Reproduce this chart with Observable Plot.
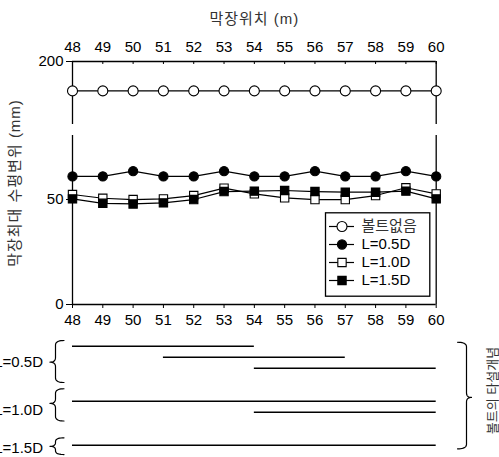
<!DOCTYPE html>
<html><head><meta charset="utf-8">
<script src="https://cdn.jsdelivr.net/npm/d3@7"></script>
<script src="https://cdn.jsdelivr.net/npm/@observablehq/plot@0.6"></script>
<style>
body{margin:0;background:#fff;}
#wrap{position:relative;width:499px;height:457px;overflow:hidden;}
#wrap svg{position:absolute;left:0;top:0;}
</style></head><body><div id="wrap"></div>
<script>
// ---- data ----
const positions = [48,49,50,51,52,53,54,55,56,57,58,59,60];
const seriesNames = ["볼트없음","L=0.5D","L=1.0D","L=1.5D"];
const noBolt = [186,186,186,186,186,186,186,186,186,186,186,186,186];
const l05 = [61,61,63.5,61,61,63.5,61,61,63.5,61,61,63.5,61];
const l10 = [52.4,50.6,50,50.3,51.9,55.4,52.7,50.8,50,50,51.9,55.6,52.7];
const l15 = [50.3,48.2,47.9,48.4,50,53.8,54,54.3,53.8,53.5,53.5,54,50.3];
const yTicks = [0,50,200];
const yBreak = [80.5,170];
const title = "막장위치 (m)";
const yLabel = "막장최대 수평변위 (mm)";
const patternGroups = ["L=0.5D","L=1.0D","L=1.5D"];
const boltGroup = ["L=0.5D","L=0.5D","L=0.5D","L=1.0D","L=1.0D","L=1.5D"];
const boltStart = [48,51,54,48,54,48];
const boltEnd = [54,57,60,60,60,60];
const rightLabel = "볼트의 타설개념";

// ---- layout ----
const W = 499, H = 457;
const ML = 72, MR = 63.3, MT = 61, YB = 304, MB = H - YB;
const frameW = W - ML - MR, frameH = YB - MT;
const ppu = frameW / (positions[positions.length-1] - positions[0]);
const font = "Arial, 'Liberation Sans', 'Noto Sans CJK KR', sans-serif";
const base = {fontFamily: font, fontSize: "15px", color: "black", overflow: "visible"};
const korFill = "#333";

const seriesValues = [noBolt, l05, l10, l15];
const symbols = ["circle","circle","square","square"];
const fills = ["white","black","white","black"];
const radii = [5, 4.6, 4.7, 4.7];
const table = seriesNames.flatMap((s, k) => positions.map((p, i) => ({pos: p, value: seriesValues[k][i], series: s})));

const frameSegs = [];
for (const x of [positions[0], positions[positions.length-1]]) {
  frameSegs.push({x, y1: 0, y2: yBreak[0]}, {x, y1: yBreak[1], y2: yTicks[yTicks.length-1]});
}

const seriesMarks = seriesNames.flatMap((s, k) => {
  const d = table.filter(r => r.series === s);
  return [
    Plot.line(d, {x: "pos", y: "value", stroke: "black", strokeWidth: 1.2}),
    Plot.dot(d, {x: "pos", y: "value", symbol: symbols[k], r: radii[k], fill: fills[k], stroke: "black", strokeWidth: 1.1})
  ];
});

const main = Plot.plot({
  width: W, height: H, marginLeft: ML, marginRight: MR, marginTop: MT, marginBottom: MB,
  style: {...base, background: "white"},
  x: {domain: [positions[0], positions[positions.length-1]]},
  y: {type: "linear", domain: [0, yBreak[0], yBreak[1], 200], range: [YB, 135, 124, MT]},
  marks: [
    Plot.axisX(positions, {anchor: "top", tickSize: 0, tickPadding: 10, tickFormat: d => String(d)}),
    Plot.axisX(positions, {anchor: "bottom", tickSize: 4, tickPadding: 6, tickFormat: d => String(d)}),
    Plot.tickX(positions, {x: d => d, insetBottom: frameH - 3, stroke: "black"}),
    Plot.axisY(yTicks, {anchor: "left", tickSize: 6, tickPadding: 3, tickFormat: d => String(d)}),
    Plot.tickY(yTicks, {y: d => d, insetRight: frameW - 6, stroke: "black"}),
    Plot.ruleY([0, 200], {y: d => d, stroke: "black", strokeWidth: 1.3}),
    Plot.ruleX(frameSegs, {x: "x", y1: "y1", y2: "y2", stroke: "black", strokeWidth: 1.3}),
    ...seriesMarks,
    Plot.text([title], {frameAnchor: "top", dy: -48, fill: korFill, fontSize: 15}),
    Plot.text([yLabel], {frameAnchor: "left", dx: -57, rotate: -90, textAnchor: "middle", fill: korFill, fontSize: 15})
  ]
});
main.querySelectorAll("text").forEach(t => { if (/[\uAC00-\uD7A3]/.test(t.textContent)) t.setAttribute("letter-spacing", "1"); });

// ---- bolting pattern section ----
const rowPx = 11, row0 = 345.7;
const boltRows = [0,1,2,5,6,9];
const bolts = boltGroup.map((g, i) => ({group: g, row: boltRows[i], start: boltStart[i], end: boltEnd[i]}));
const labelRows = [1.45, 5.85, 9.25];
const leftBraces = [[-0.52, 1.45, 3.3], [3.87, 5.2, 6.8], [8.33, 9.1, 9.85]];
const rightBrace = [-0.36, 4.66, 9.33];
const pxToX = px => positions[0] + (px - ML) / ppu;

function bracePts(xEnd, xSpine, xTip, top, tip, bottom, id) {
  const c = Math.min(0.42, (tip - top) / 2.2, (bottom - tip) / 2.2);
  const pts = [];
  const q = (p0, p1, p2) => { for (let i = 0; i <= 10; i++) { const t = i / 10, u = 1 - t;
    pts.push([u*u*p0[0] + 2*u*t*p1[0] + t*t*p2[0], u*u*p0[1] + 2*u*t*p1[1] + t*t*p2[1]]); } };
  q([xEnd, top], [xSpine, top], [xSpine, top + c]);
  q([xSpine, tip - c], [xSpine, tip], [xTip, tip]);
  q([xTip, tip], [xSpine, tip], [xSpine, tip + c]);
  q([xSpine, bottom - c], [xSpine, bottom], [xEnd, bottom]);
  return pts.map(([px, r]) => ({x: pxToX(px), y: r, id}));
}
const braceData = [
  ...leftBraces.flatMap((b, i) => bracePts(63.5, 55, 49.5, b[0], b[1], b[2], "L" + i)),
  ...bracePts(457, 466, 471, rightBrace[0], rightBrace[1], rightBrace[2], "R")
];

const lower = Plot.plot({
  width: W, height: H, marginLeft: ML, marginRight: MR, marginTop: MT, marginBottom: MB,
  style: {...base, background: "transparent"},
  x: {domain: [positions[0], positions[positions.length-1]], axis: null},
  y: {domain: [0, 9], range: [row0, row0 + 9 * rowPx], axis: null},
  marks: [
    Plot.ruleY(bolts, {y: "row", x1: "start", x2: "end", stroke: "black", strokeWidth: 1.4}),
    Plot.line(braceData, {x: "x", y: "y", z: "id", stroke: "black", strokeWidth: 1.2}),
    Plot.text(patternGroups, {x: positions[0], y: (d, i) => labelRows[i], dx: -29.5, textAnchor: "end", fontSize: 15, fill: "black"}),
    Plot.text([rightLabel], {x: positions[positions.length-1], y: 4.03, dx: 56.3, rotate: -90, fontSize: 13, fill: korFill})
  ]
});

// ---- legend ----
const legend = Plot.plot({
  width: W, height: H, marginLeft: 325, marginRight: W - 429.3, marginTop: 212.3, marginBottom: H - 295.7,
  style: {...base, background: "transparent"},
  x: {domain: [0, 1], range: [329, 354], axis: null},
  y: {type: "point", domain: seriesNames, range: [226, 280.7], padding: 0, axis: null},
  marks: [
    Plot.frame({stroke: "black", strokeWidth: 1.3}),
    Plot.ruleY(seriesNames, {y: d => d, x1: 0, x2: 1, stroke: "black", strokeWidth: 1.2}),
    ...seriesNames.map((s, k) => Plot.dot([s], {x: 0.5, y: d => d, symbol: symbols[k], r: radii[k], fill: fills[k], stroke: "black", strokeWidth: 1.1})),
    Plot.text(seriesNames, {x: 1, y: d => d, dx: 7, textAnchor: "start", fontSize: 15, fill: (d, i) => i === 0 ? korFill : "black"})
  ]
});

const wrap = document.getElementById("wrap");
wrap.append(main, lower, legend);
</script>
</body></html>
